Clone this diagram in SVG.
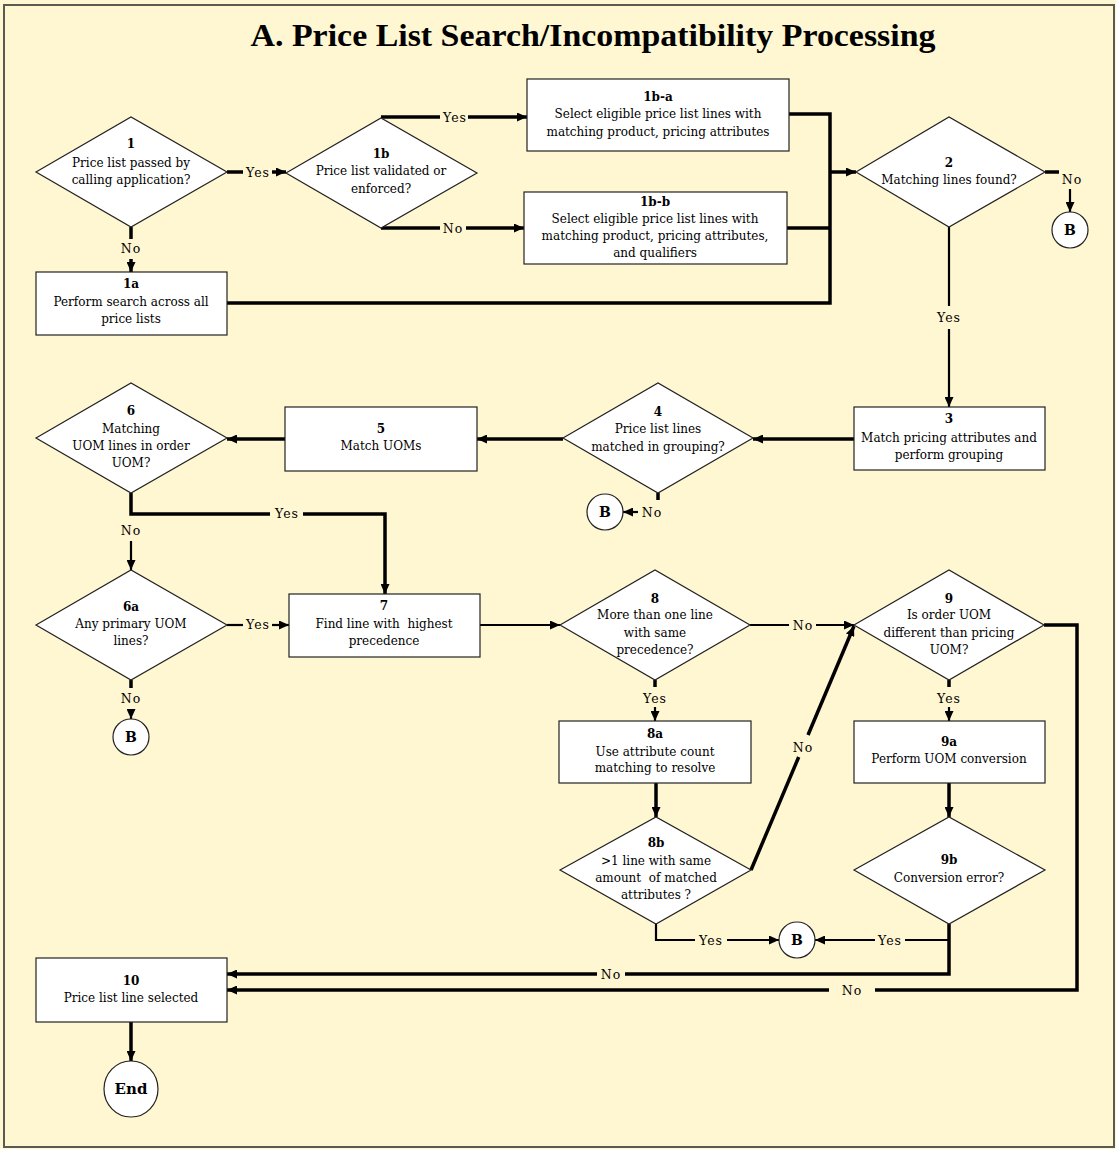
<svg xmlns="http://www.w3.org/2000/svg" width="1116" height="1149" viewBox="0 0 1116 1149">
<style>
.bg{fill:#FFF6D2}
.frame{fill:none;stroke:#5a5a50;stroke-width:2}
.box{fill:#fff;stroke:#222;stroke-width:1.2}
.t{font-family:"DejaVu Serif","Liberation Serif",serif;font-size:12px;text-anchor:middle;fill:#000}
.n{font-weight:bold}
.pre{white-space:pre}
.lb{font-family:"DejaVu Serif","Liberation Serif",serif;font-size:12.5px;letter-spacing:1px;text-anchor:middle;fill:#000}
.title{font-family:"Liberation Serif",serif;font-size:32px;font-weight:bold;text-anchor:middle;fill:#000}
.k{fill:none;stroke:#000;stroke-width:3.5}
.m{fill:none;stroke:#000;stroke-width:2.2}
.a{marker-end:url(#ah)}
</style>
<defs>
<marker id="ah" markerUnits="userSpaceOnUse" markerWidth="11" markerHeight="9" refX="10" refY="4.5" orient="auto">
<path d="M0,0 L10,4.5 L0,9 z" fill="#000"/>
</marker>
</defs>
<rect class="bg" x="0" y="0" width="1116" height="1149"/>
<rect class="frame" x="4" y="5" width="1110" height="1142"/>
<text class="title" x="593" y="46" textLength="685" lengthAdjust="spacingAndGlyphs">A. Price List Search/Incompatibility Processing</text>

<g id="connectors">
<line class="k" x1="227" y1="172" x2="243" y2="172"/>
<text class="lb" x="258" y="177">Yes</text>
<line class="k a" x1="272" y1="172" x2="286" y2="172"/>
<line class="k" x1="381" y1="117" x2="440" y2="117"/>
<text class="lb" x="455" y="122">Yes</text>
<line class="k a" x1="468" y1="117" x2="527" y2="117"/>
<line class="k" x1="381" y1="228" x2="440" y2="228"/>
<text class="lb" x="453" y="233">No</text>
<line class="k a" x1="466" y1="228" x2="524" y2="228"/>
<line class="k" x1="131" y1="227" x2="131" y2="239"/>
<text class="lb" x="131" y="253">No</text>
<line class="k a" x1="131" y1="259" x2="131" y2="272"/>
<polyline class="k" points="789,114 830,114 830,303 227,303"/>
<line class="k" x1="787" y1="228" x2="830" y2="228"/>
<line class="k a" x1="830" y1="172" x2="856" y2="172"/>
<line class="k" x1="1045" y1="172" x2="1059" y2="172"/>
<text class="lb" x="1072" y="184">No</text>
<line class="m a" x1="1070" y1="189" x2="1070" y2="212"/>
<line class="m" x1="949" y1="227" x2="949" y2="306"/>
<text class="lb" x="949" y="322">Yes</text>
<line class="m a" x1="949" y1="329" x2="949" y2="407"/>
<line class="k a" x1="854" y1="439" x2="753" y2="439"/>
<line class="k a" x1="563" y1="439" x2="477" y2="439"/>
<line class="k a" x1="285" y1="439" x2="227" y2="439"/>
<line class="k" x1="658" y1="493" x2="658" y2="500"/>
<text class="lb" x="652" y="517">No</text>
<line class="m a" x1="638" y1="512" x2="623" y2="512"/>
<polyline class="k" points="131,493 131,514 270,514"/>
<text class="lb" x="287" y="518">Yes</text>
<polyline class="k a" points="303,514 385,514 385,594"/>
<text class="lb" x="131" y="535">No</text>
<line class="m a" x1="131" y1="541" x2="131" y2="570"/>
<line class="m" x1="227" y1="625" x2="243" y2="625"/>
<text class="lb" x="258" y="629">Yes</text>
<line class="m a" x1="272" y1="625" x2="289" y2="625"/>
<line class="k" x1="131" y1="680" x2="131" y2="688"/>
<text class="lb" x="131" y="703">No</text>
<line class="m a" x1="131" y1="717" x2="131" y2="719"/>
<line class="m a" x1="480" y1="625" x2="560" y2="625"/>
<line class="m" x1="750" y1="625" x2="789" y2="625"/>
<text class="lb" x="803" y="630">No</text>
<line class="m a" x1="816" y1="625" x2="854" y2="625"/>
<polyline class="k" points="1044,625 1077,625 1077,990 875,990"/>
<text class="lb" x="852" y="995">No</text>
<line class="k a" x1="829" y1="990" x2="227" y2="990"/>
<line class="k" x1="655" y1="680" x2="655" y2="687"/>
<text class="lb" x="655" y="703">Yes</text>
<line class="m a" x1="655" y1="707" x2="655" y2="721"/>
<line class="k" x1="949" y1="680" x2="949" y2="687"/>
<text class="lb" x="949" y="703">Yes</text>
<line class="m a" x1="949" y1="707" x2="949" y2="721"/>
<line class="k a" x1="656" y1="783" x2="656" y2="817"/>
<line class="k a" x1="949" y1="783" x2="949" y2="817"/>
<line class="k" x1="751" y1="870" x2="798.7" y2="757"/>
<text class="lb" x="803" y="752">No</text>
<line class="k a" x1="808" y1="735" x2="854" y2="626"/>
<polyline class="m" points="656,924 656,940 695,940"/>
<text class="lb" x="711" y="945">Yes</text>
<line class="m a" x1="727" y1="940" x2="779" y2="940"/>
<polyline class="k" points="949,924 949,974 625,974"/>
<line class="m" x1="949" y1="940" x2="905" y2="940"/>
<text class="lb" x="890" y="945">Yes</text>
<line class="m a" x1="875" y1="940" x2="815" y2="940"/>
<text class="lb" x="611" y="979">No</text>
<line class="k a" x1="597" y1="974" x2="227" y2="974"/>
<line class="k a" x1="131" y1="1022" x2="131" y2="1061"/>
</g>

<g id="n1">
<polygon class="box" points="36,172 131,117 227,172 131,227"/>
<text class="t n" x="131" y="148">1</text>
<text class="t" x="131" y="167">Price list passed by</text>
<text class="t" x="131" y="184">calling application?</text>
</g>
<g id="n1b">
<polygon class="box" points="286,173 381,118 477,173 381,228"/>
<text class="t n" x="381" y="158">1b</text>
<text class="t" x="381" y="175">Price list validated or</text>
<text class="t" x="381" y="193">enforced?</text>
</g>
<g id="n1a">
<rect class="box" x="36" y="272" width="191" height="63"/>
<text class="t n" x="131" y="288">1a</text>
<text class="t" x="131" y="306">Perform search across all</text>
<text class="t" x="131" y="323">price lists</text>
</g>
<g id="n1ba">
<rect class="box" x="527" y="79" width="262" height="72"/>
<text class="t n" x="658" y="101">1b-a</text>
<text class="t" x="658" y="118">Select eligible price list lines with</text>
<text class="t" x="658" y="136">matching product, pricing attributes</text>
</g>
<g id="n1bb">
<rect class="box" x="524" y="192" width="263" height="72"/>
<text class="t n" x="655" y="206">1b-b</text>
<text class="t" x="655" y="223">Select eligible price list lines with</text>
<text class="t" x="655" y="240">matching product, pricing attributes,</text>
<text class="t" x="655" y="257">and qualifiers</text>
</g>
<g id="n2">
<polygon class="box" points="856,172 949,117 1045,172 949,227"/>
<text class="t n" x="949" y="167">2</text>
<text class="t" x="949" y="184">Matching lines found?</text>
</g>
<g id="b2">
<circle class="box" cx="1070" cy="230" r="18"/>
<text class="t n" x="1070" y="235" style="font-size:14px">B</text>
</g>
<g id="n3">
<rect class="box" x="854" y="407" width="191" height="63"/>
<text class="t n" x="949" y="423">3</text>
<text class="t" x="949" y="442">Match pricing attributes and</text>
<text class="t" x="949" y="459">perform grouping</text>
</g>
<g id="n4">
<polygon class="box" points="563,438 658,383 753,438 658,493"/>
<text class="t n" x="658" y="416">4</text>
<text class="t" x="658" y="433">Price list lines</text>
<text class="t" x="658" y="451">matched in grouping?</text>
</g>
<g id="b4">
<circle class="box" cx="605" cy="512" r="18"/>
<text class="t n" x="605" y="517" style="font-size:14px">B</text>
</g>
<g id="n5">
<rect class="box" x="285" y="407" width="192" height="64"/>
<text class="t n" x="381" y="433">5</text>
<text class="t" x="381" y="450">Match UOMs</text>
</g>
<g id="n6">
<polygon class="box" points="36,438 131,383 227,438 131,493"/>
<text class="t n" x="131" y="415">6</text>
<text class="t" x="131" y="433">Matching</text>
<text class="t" x="131" y="450">UOM lines in order</text>
<text class="t" x="131" y="467">UOM?</text>
</g>
<g id="n6a">
<polygon class="box" points="36,625 131,570 227,625 131,680"/>
<text class="t n" x="131" y="611">6a</text>
<text class="t" x="131" y="628">Any primary UOM</text>
<text class="t" x="131" y="645">lines?</text>
</g>
<g id="b6a">
<circle class="box" cx="131" cy="737" r="18"/>
<text class="t n" x="131" y="742" style="font-size:14px">B</text>
</g>
<g id="n7">
<rect class="box" x="289" y="594" width="191" height="63"/>
<text class="t n" x="384" y="610">7</text>
<text class="t pre" x="384" y="628">Find line with  highest</text>
<text class="t" x="384" y="645">precedence</text>
</g>
<g id="n8">
<polygon class="box" points="560,625 655,570 750,625 655,680"/>
<text class="t n" x="655" y="603">8</text>
<text class="t" x="655" y="619">More than one line</text>
<text class="t" x="655" y="637">with same</text>
<text class="t" x="655" y="654">precedence?</text>
</g>
<g id="n9">
<polygon class="box" points="854,625 949,570 1044,625 949,680"/>
<text class="t n" x="949" y="603">9</text>
<text class="t" x="949" y="619">Is order UOM</text>
<text class="t" x="949" y="637">different than pricing</text>
<text class="t" x="949" y="654">UOM?</text>
</g>
<g id="n8a">
<rect class="box" x="559" y="721" width="192" height="62"/>
<text class="t n" x="655" y="738">8a</text>
<text class="t" x="655" y="756">Use attribute count</text>
<text class="t" x="655" y="772">matching to resolve</text>
</g>
<g id="n9a">
<rect class="box" x="854" y="721" width="191" height="62"/>
<text class="t n" x="949" y="746">9a</text>
<text class="t" x="949" y="763">Perform UOM conversion</text>
</g>
<g id="n8b">
<polygon class="box" points="560,870 656,817 751,870 656,924"/>
<text class="t n" x="656" y="847">8b</text>
<text class="t" x="656" y="865">&gt;1 line with same</text>
<text class="t pre" x="656" y="882">amount  of matched</text>
<text class="t" x="656" y="899">attributes ?</text>
</g>
<g id="n9b">
<polygon class="box" points="854,870 949,817 1045,870 949,924"/>
<text class="t n" x="949" y="864">9b</text>
<text class="t" x="949" y="882">Conversion error?</text>
</g>
<g id="b8b">
<circle class="box" cx="797" cy="940" r="18"/>
<text class="t n" x="797" y="945" style="font-size:14px">B</text>
</g>
<g id="n10">
<rect class="box" x="36" y="958" width="191" height="64"/>
<text class="t n" x="131" y="985">10</text>
<text class="t" x="131" y="1002">Price list line selected</text>
</g>
<g id="end">
<ellipse class="box" cx="131" cy="1089" rx="27" ry="28"/>
<text class="t n" x="131" y="1094" style="font-size:15px">End</text>
</g>
</svg>
